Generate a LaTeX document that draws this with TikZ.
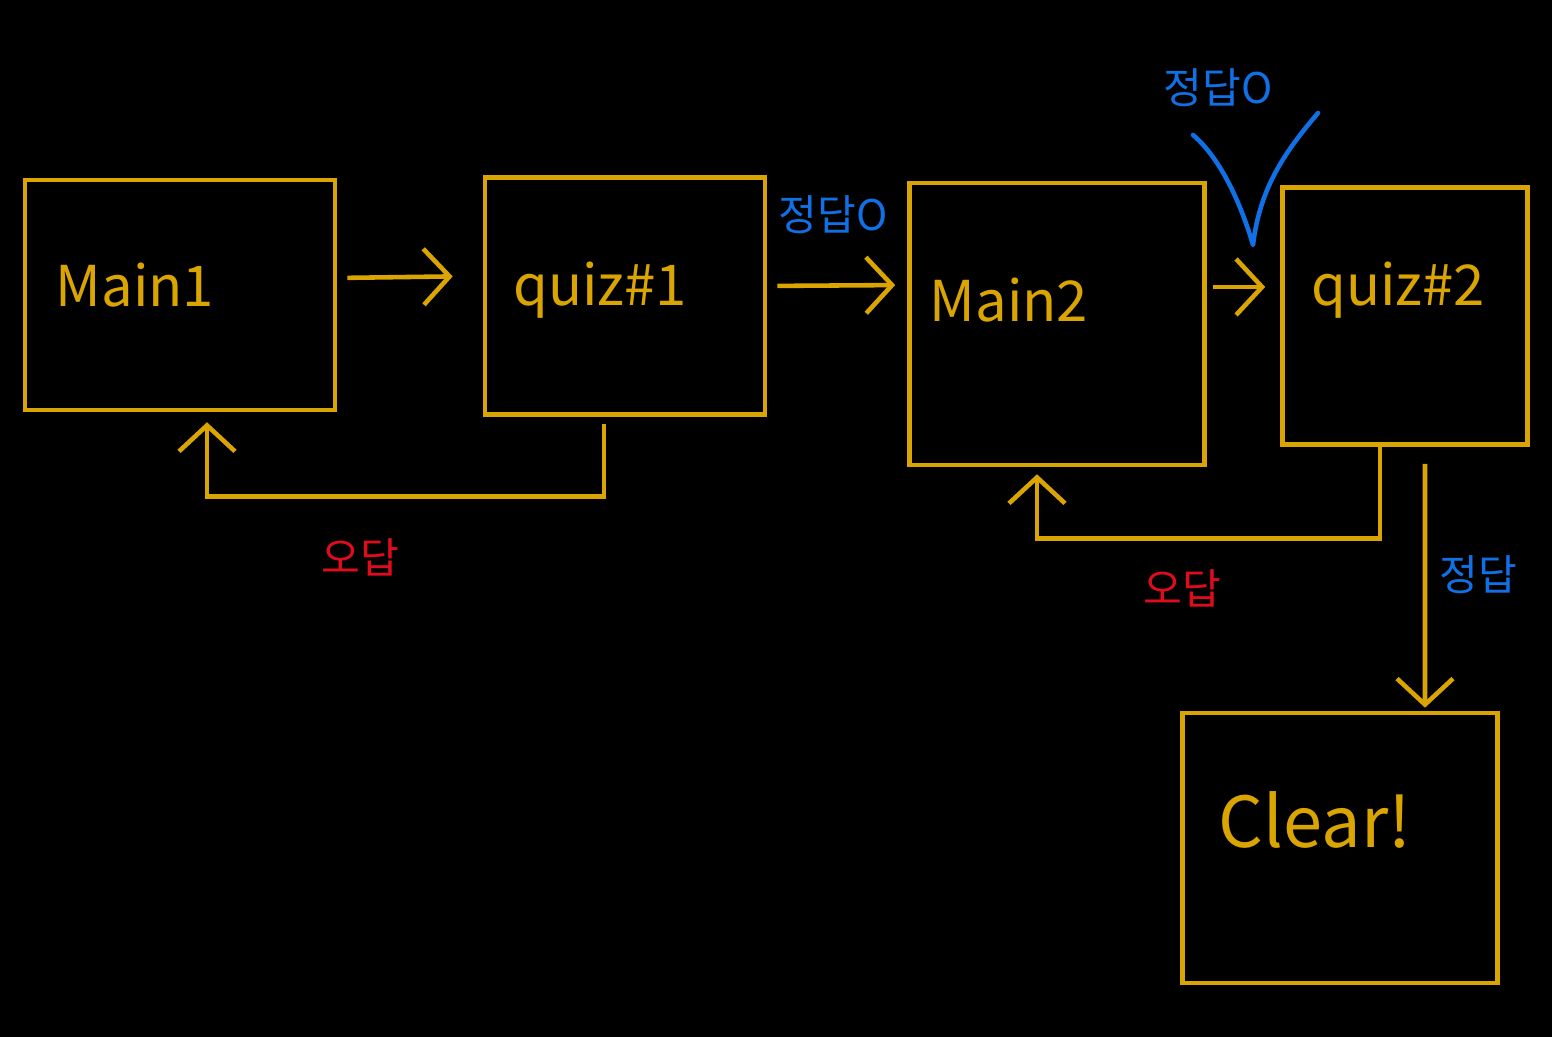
\documentclass[tikz,border=0pt]{standalone}
\usepackage{fontspec}
\setmainfont{Noto Sans CJK KR}
\usetikzlibrary{arrows.meta,positioning}
\definecolor{penyellow}{RGB}{218,165,0}
\definecolor{penblue}{RGB}{16,112,230}
\definecolor{penred}{RGB}{222,12,28}

\begin{document}
\begin{tikzpicture}[>={Straight Barb[length=2.6mm,width=5.6mm]},
  stage/.style={draw=penyellow,line width=1.3pt,minimum width=#1},
  flow/.style={->,draw=penyellow,line width=1.3pt},
  boxtext/.style={text=penyellow,font=\fontsize{16}{18}\selectfont},
  okmark/.style={text=penblue,font=\fontsize{12}{14}\selectfont},
  ngmark/.style={text=penred,font=\fontsize{12}{14}\selectfont}]
\fill[black] (0,0) rectangle (15.52,10.37);
\useasboundingbox (0,0) rectangle (15.52,10.37);
% stages
\node[stage=3.10cm,minimum height=2.30cm] (main1) at (1.80,7.42) {};
\node[stage=2.80cm,minimum height=2.37cm] (quiz1) at (6.25,7.41) {};
\node[stage=2.95cm,minimum height=2.82cm] (main2) at (10.57,7.13) {};
\node[stage=2.45cm,minimum height=2.57cm] (quiz2) at (14.05,7.21) {};
\node[stage=3.15cm,minimum height=2.70cm] (clear) at (13.40,1.89) {};
\node[boxtext] (main1txt) at (1.35,7.52) {Main1};
\node[boxtext] (quiz1txt) at (6.00,7.47) {quiz\#1};
\node[boxtext] (main2txt) at (10.09,7.37) {Main2};
\node[boxtext] (quiz2txt) at (13.98,7.47) {quiz\#2};
\node[boxtext,font=\fontsize{20}{22}\selectfont] (cleartxt) at (13.15,2.17) {Clear!};
% forward
\draw[flow,shorten <=1mm,shorten >=3mm] ([yshift=0.17cm]main1.east) -- ([yshift=0.2cm]quiz1.west);
\draw[flow,shorten <=1mm,shorten >=1.2mm] ([yshift=0.1cm]quiz1.east) -- ([yshift=0.39cm]main2.west);
\draw[flow,shorten <=0.6mm,shorten >=1.5mm] ([yshift=0.37cm]main2.east) -- ([yshift=0.29cm]quiz2.west);
\draw[flow,shorten <=1.7mm,shorten >=0.3mm] ([xshift=0.2cm]quiz2.south) -- ([xshift=0.85cm]clear.north);
% back on wrong answer
\draw[flow,shorten <=0.7mm,shorten >=1mm] ([xshift=-0.21cm]quiz1.south) -- ++(0,-0.8) -| ([xshift=0.27cm]main1.south);
\draw[flow,shorten >=0.7mm] ([xshift=-0.25cm]quiz2.south) -- ++(0,-0.92) -| ([xshift=-0.2cm]main2.south);
% answer labels
\node[okmark] (ok1) at (8.33,8.22) {정답O};
\node[okmark] (ok2) at (12.18,9.49) {정답O};
\node[okmark] (ok3) at (14.78,4.62) {정답};
\node[ngmark] (ng1) at (3.60,4.80) {오답};
\node[ngmark] (ng2) at (11.82,4.49) {오답};
\draw[penblue,line width=1.3pt,line cap=round,line join=round] (11.93,9.02) .. controls (12.25,8.75) and (12.45,8.2) .. (12.53,7.92) .. controls (12.6,8.5) and (12.85,8.85) .. (13.18,9.24);
\end{tikzpicture}
\end{document}
